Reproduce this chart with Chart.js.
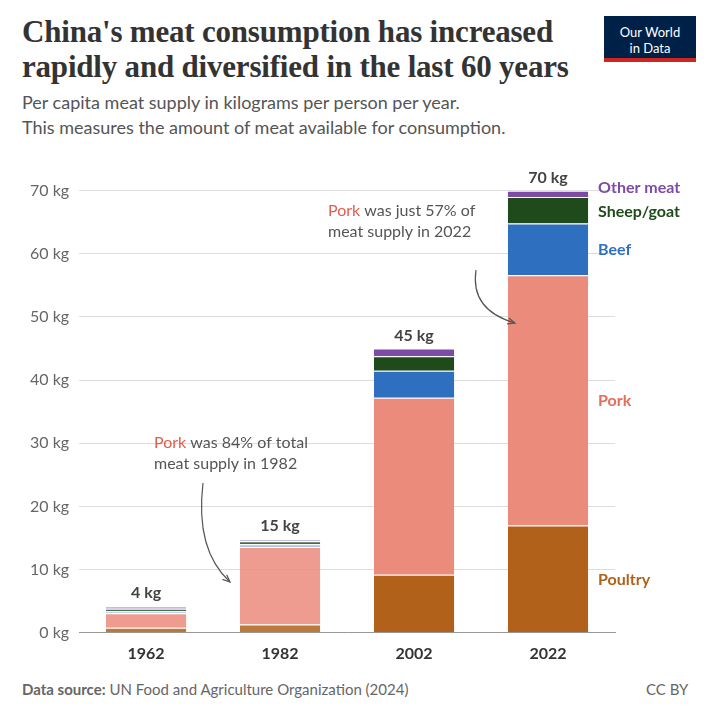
<!DOCTYPE html>
<html><head><meta charset="utf-8">
<script src="https://cdn.jsdelivr.net/npm/chart.js@4"></script>
<style>
body{margin:0;background:#fff;font-family:Lato,sans-serif;}
#wrap{position:relative;width:720px;height:720px;}
h1{position:absolute;left:22px;top:14px;margin:0;font-family:"Liberation Serif",serif;font-size:31px;line-height:35px;color:#333;font-weight:bold;width:580px;letter-spacing:-0.2px;}
.sub{position:absolute;left:22px;top:90px;font-size:18px;line-height:25px;color:#555;}
.logo{position:absolute;left:604px;top:16px;width:92px;height:46px;background:#002147;color:#fff;font-size:13px;line-height:16px;text-align:center;padding-top:8px;box-sizing:border-box;border-bottom:4px solid #ce261e;}
.foot{position:absolute;top:680px;font-size:15px;color:#666;}
#c{position:absolute;left:0;top:150px;}
</style></head><body>
<div id="wrap">
<h1>China's meat consumption has increased rapidly and diversified in the last 60 years</h1>
<div class="sub">Per capita meat supply in kilograms per person per year.<br>This measures the amount of meat available for consumption.</div>
<div class="logo">Our World<br>in Data</div>
<div class="foot" style="left:22px"><b>Data source:</b> UN Food and Agriculture Organization (2024)</div>
<div class="foot" style="left:646px">CC BY</div>
<canvas id="c" width="720" height="520"></canvas>
</div>
<script>
var years = ["1962", "1982", "2002", "2022"];
var poultry = [0.8, 1.3, 9.2, 17];
var pork = [2.3, 12.3, 28, 39.6];
var beef = [0.3, 0.4, 4.3, 8.2];
var sheep = [0.4, 0.5, 2.3, 4.2];
var other = [0.4, 0.3, 1.2, 1.0];
var totals = ["4 kg", "15 kg", "45 kg", "70 kg"];
var yTicks = [0, 10, 20, 30, 40, 50, 60, 70];

function cols(c, faded) {
    return years.map(function(y, i) { return i < 2 ? faded : c; });
}
var series = [
    ["Poultry", poultry, "#b1611a", "rgba(177,97,26,0.85)", "#b1611a"],
    ["Pork", pork, "#eb8b7c", "rgba(235,139,124,0.85)", "#e56e5a"],
    ["Beef", beef, "#2f6fc0", "#a9c6e6", "#2f6fc0"],
    ["Sheep/goat", sheep, "#1f4a1b", "#4a6b48", "#1f4a1b"],
    ["Other meat", other, "#7d4aa6", "#b9a2d4", "#7d4aa6"]
];

var labelPlugin = {
    id: 'labels',
    afterDraw: function(chart) {
        var ctx = chart.ctx, x = chart.scales.x, y = chart.scales.y;
        ctx.save();
        ctx.textAlign = 'center';
        ctx.font = 'bold 16px Lato';
        ctx.fillStyle = '#444';
        var cum = years.map(function(_, i) { return poultry[i] + pork[i] + beef[i] + sheep[i] + other[i]; });
        years.forEach(function(_, i) {
            ctx.fillText(totals[i], x.getPixelForValue(i), y.getPixelForValue(cum[i]) - 8);
        });
        ctx.textAlign = 'left';
        var lx = x.getPixelForValue(3) + 50, base = 0;
        var mids = [];
        series.forEach(function(s) { mids.push(base + s[1][3] / 2); base += s[1][3]; });
        var pos = [mids[0], mids[1], mids[2], 66.8, 70.6];
        series.forEach(function(s, k) {
            ctx.fillStyle = s[4];
            ctx.fillText(s[0], lx, y.getPixelForValue(pos[k]) + 6);
        });
        ctx.font = '16px Lato';
        function anno(lines, ax, ay) {
            lines.forEach(function(l, j) {
                var px = ax;
                l.forEach(function(seg) {
                    ctx.fillStyle = seg[1];
                    ctx.fillText(seg[0], px, ay + j * 21);
                    px += ctx.measureText(seg[0]).width;
                });
            });
        }
        anno([[["Pork", "#e0604d"], [" was just 57% of", "#555"]], [["meat supply in 2022", "#555"]]], 328, 66);
        anno([[["Pork", "#e0604d"], [" was 84% of total", "#555"]], [["meat supply in 1982", "#555"]]], 154, 298);
        ctx.strokeStyle = '#555';
        ctx.lineWidth = 1.2;
        function arrow(x0, y0, cx, cy, x1, y1) {
            ctx.beginPath(); ctx.moveTo(x0, y0); ctx.quadraticCurveTo(cx, cy, x1, y1); ctx.stroke();
            var a = Math.atan2(y1 - cy, x1 - cx);
            ctx.beginPath();
            ctx.moveTo(x1 - 8 * Math.cos(a - 0.4), y1 - 8 * Math.sin(a - 0.4));
            ctx.lineTo(x1, y1);
            ctx.lineTo(x1 - 8 * Math.cos(a + 0.4), y1 - 8 * Math.sin(a + 0.4));
            ctx.stroke();
        }
        arrow(476, 120, 470, 160, 515, 173);
        arrow(203, 333, 195, 400, 230, 432);
        ctx.restore();
    }
};

new Chart(document.getElementById('c'), {
    type: 'bar',
    data: {
        labels: years,
        datasets: series.map(function(s) {
            return {
                label: s[0], data: s[1],
                backgroundColor: cols(s[2], s[3]),
                borderColor: '#fff', borderWidth: { top: 1 }, borderSkipped: 'bottom',
                barPercentage: 0.6, categoryPercentage: 1
            };
        })
    },
    options: {
        responsive: false, animation: false,
        layout: { padding: { left: 20, right: 105, top: 28, bottom: 4 } },
        plugins: { legend: { display: false }, tooltip: { enabled: false } },
        scales: {
            x: { stacked: true, grid: { display: false }, border: { color: '#999' },
                ticks: { color: '#333', font: { family: 'Lato', size: 16, weight: 'bold' } } },
            y: { stacked: true, min: 0, max: 72, afterBuildTicks: function(a) { a.ticks = yTicks.map(function(v) { return { value: v }; }); },
                border: { display: false },
                grid: { color: '#ddd', tickLength: 0 },
                ticks: { color: '#666', padding: 10, font: { family: 'Lato', size: 16 }, callback: function(v) { return v + ' kg'; } } }
        }
    },
    plugins: [labelPlugin]
});
</script>
</body></html>
